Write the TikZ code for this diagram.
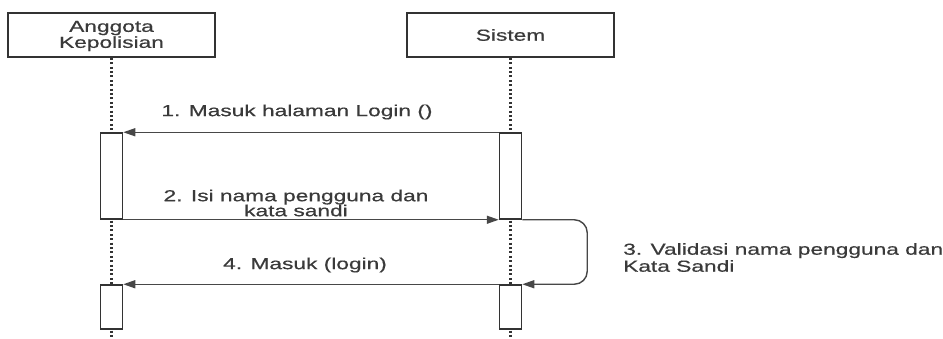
\documentclass[tikz,border=0pt]{standalone}
\usepackage{fontspec}
\setmainfont{Liberation Sans}
\newfontfamily\diafont{Liberation Sans}[FakeBold=0.5]
\usetikzlibrary{arrows.meta}
\newcommand{\sx}[1]{\scalebox{1.42}[1]{#1}}
\definecolor{ink}{HTML}{333333}
\definecolor{txt}{HTML}{3A3A3A}
\tikzset{
  actorbox/.style={draw=ink, line width=1.5pt, fill=white, minimum width=207pt, minimum height=44pt, inner sep=0pt},
  actortext/.style={text=txt, align=center, inner sep=0pt, font=\diafont\fontsize{16}{16}\selectfont},
  actbox/.style={draw=ink, line width=1.5pt, fill=white, minimum width=22pt, inner sep=0pt},
  lifeline/.style={draw=ink, line width=2.2pt, dash pattern=on 2pt off 2.4pt},
  msg/.style={draw=ink!90, line width=1.4pt, -{Triangle[length=12pt,width=8pt]}},
  lbl/.style={text=txt, inner sep=0pt, font=\diafont\fontsize{16}{15}\selectfont},
}
\begin{document}
\begin{tikzpicture}[x=1pt,y=-1pt]
\useasboundingbox (0,0) rectangle (943,338);
% actors
\node[actorbox] (a1) at (111.5,35) {};
\node[actorbox] (a2) at (510.5,35) {};
\node[actortext] (t1) at (111.5,36) {\sx{Anggota}\\\sx{Kepolisian}};
\node[actortext] (t2) at (510.5,35) {\sx{Sistem}};
% lifeline ends
\coordinate (e1) at (111.5,338);
\coordinate (e2) at (510.5,338);
\draw[lifeline] (a1.south) -- (e1);
\draw[lifeline] (a2.south) -- (e2);
% activations
\node[actbox, minimum height=86pt] (act1) at (111.5,176) {};
\node[actbox, minimum height=86pt] (act2) at (510.5,176) {};
\node[actbox, minimum height=44pt] (act3) at (111.5,307) {};
\node[actbox, minimum height=44pt] (act4) at (510.5,307) {};
% messages
\draw[msg] (act2.north west) -- (act1.north east);
\draw[msg] (act1.south east) -- (act2.south west);
\coordinate (lp1) at ([xshift=65pt]act2.south east);
\coordinate (lp2) at ([xshift=65pt]act4.north east);
\draw[msg, rounded corners=13pt] (act2.south east) -- (lp1) -- (lp2) -- (act4.north east);
\draw[msg] (act4.north west) -- (act3.north east);
% labels
\node[lbl] (l1) at (297,112) {\sx{1. Masuk halaman Login ()}};
\node[lbl, align=center] (l2) at (296,203) {\sx{2. Isi nama pengguna dan}\\\sx{kata sandi}};
\node[lbl, align=left, anchor=west] (l3) at (623,257.5) {\sx{3. Validasi nama pengguna dan}\\[2pt]\sx{Kata Sandi}};
\node[lbl] (l4) at (305,265) {\sx{4. Masuk (login)}};
\end{tikzpicture}
\end{document}
